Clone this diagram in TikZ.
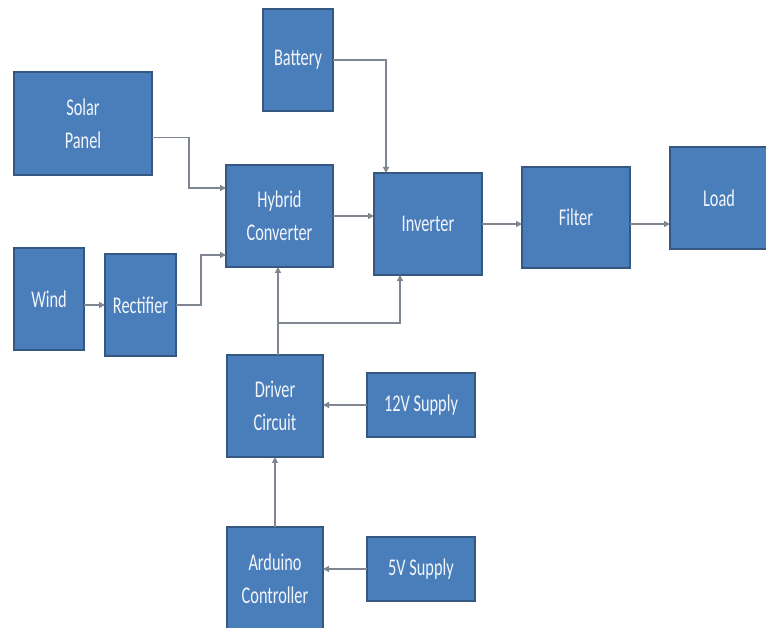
\documentclass[tikz,border=0pt]{standalone}
\usepackage{fontspec}
\setmainfont{Carlito}[FakeStretch=0.68]
\usetikzlibrary{arrows.meta}
\definecolor{boxfill}{HTML}{4A7EBB}
\definecolor{boxline}{HTML}{34587F}
\definecolor{wire}{HTML}{7E8791}
\definecolor{txt}{HTML}{F2F5FA}
\tikzset{
  blk/.style={draw=boxline, line width=1.6pt, fill=boxfill, text=txt,
    inner sep=0pt, outer sep=0pt, align=center,
    font=\fontsize{24}{33}\selectfont},
  arr/.style={draw=wire, line width=1.3pt,
    -{Triangle[length=6pt,width=6pt]}},
  ln/.style={draw=wire, line width=1.3pt}
}
\begin{document}
\begin{tikzpicture}[x=1pt,y=1pt]
\useasboundingbox (0,0) rectangle (766,627);
\node[blk, minimum width=70pt, minimum height=102pt] (bat) at (298,567) {Battery};
\node[blk, minimum width=138pt, minimum height=103pt] (sol) at (83,503.5) {Solar\\Panel};
\node[blk, minimum width=107pt, minimum height=102pt] (hyb) at (279.5,411) {Hybrid\\Converter};
\node[blk, minimum width=108pt, minimum height=102pt] (inv) at (428,403) {Inverter};
\node[blk, minimum width=70pt, minimum height=102pt] (wind) at (49,328) {Wind};
\node[blk, minimum width=71pt, minimum height=102pt] (rect) at (140.5,322) {Rectifier};
\node[blk, minimum width=108pt, minimum height=101pt] (fil) at (576,409.5) {Filter};
\node[blk, minimum width=98pt, minimum height=102pt] (load) at (719,429) {Load};
\node[blk, minimum width=96pt, minimum height=102pt] (drv) at (275,221) {Driver\\Circuit};
\node[blk, minimum width=108pt, minimum height=64pt] (v12) at (421,222) {12V Supply};
\node[blk, minimum width=96pt, minimum height=103pt] (ard) at (275,48.5) {Arduino\\Controller};
\node[blk, minimum width=108pt, minimum height=64pt] (v5) at (421,58) {5V Supply};

\draw[arr] ([yshift=-14pt]sol.east) -- ++(37pt,0) |- ([yshift=28pt]hyb.west);
\draw[arr] (rect.east) -- ++(25pt,0) |- ([yshift=-39pt]hyb.west);
\draw[arr] (wind.east |- rect.west) -- (rect.west);
\draw[arr] (bat.east) -| ([xshift=-42pt]inv.north);
\draw[arr] (hyb.east) -- (hyb.east -| inv.west);
\draw[arr] ([xshift=3pt]drv.north) -- ([xshift=3pt]drv.north |- hyb.south);
\coordinate (j) at ([xshift=3pt,yshift=32pt]drv.north);
\draw[arr] (j) -| ([xshift=-28pt]inv.south);
\draw[arr] (inv.east) -- (inv.east -| fil.west);
\draw[arr] (inv.east -| fil.east) -- (inv.east -| load.west);
\draw[arr] (v12.west) -- (v12.west -| drv.east);
\draw[arr] (ard.north) -- (drv.south);
\draw[arr] (v5.west) -- (v5.west -| ard.east);
\end{tikzpicture}
\end{document}
